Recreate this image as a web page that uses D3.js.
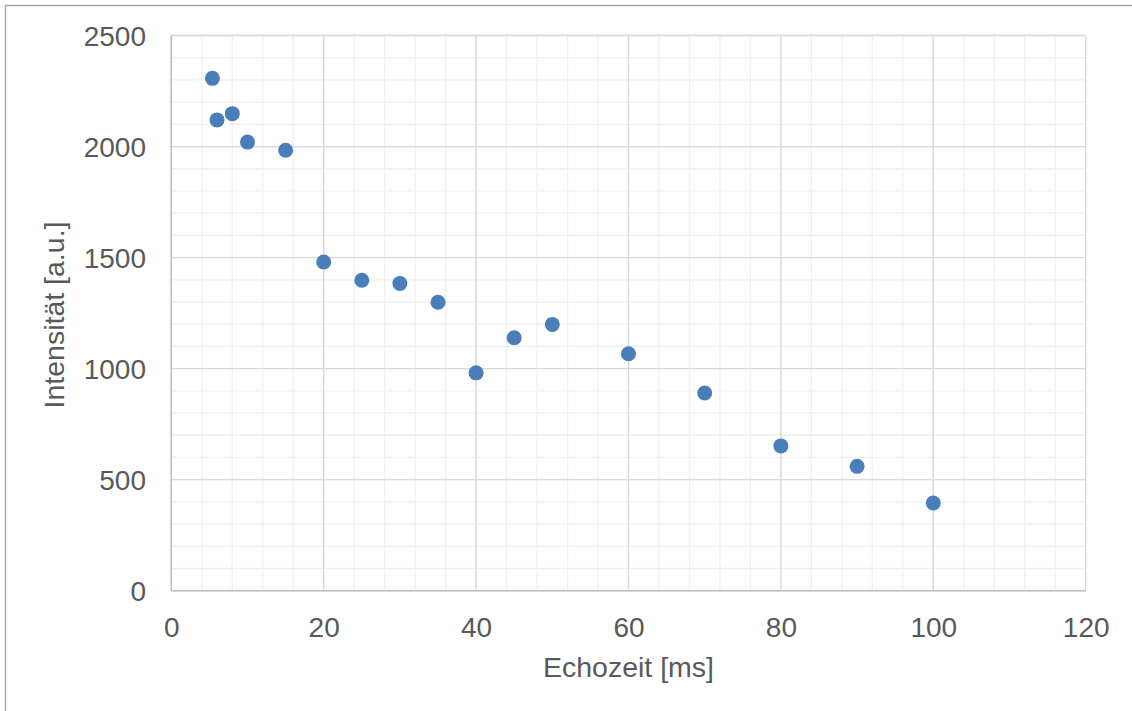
<!DOCTYPE html>
<html>
<head>
<meta charset="utf-8">
<script src="https://cdn.jsdelivr.net/npm/d3@7"></script>
<style>
  html, body { margin: 0; padding: 0; background: #fff; }
  svg { display: block; }
  text { font-family: "Liberation Sans", Arial, sans-serif; fill: #595959; }
</style>
</head>
<body>
<svg id="chart" width="1132" height="711"></svg>
<script>
// Echo time (ms) and measured signal intensity (a.u.)
const echoTime  = [5.4, 6, 8, 10, 15, 20, 25, 30, 35, 40, 45, 50, 60, 70, 80, 90, 100];
const intensity = [2307, 2120, 2148, 2020, 1983, 1480, 1398, 1383, 1299, 981, 1139, 1199, 1067, 890, 652, 560, 395];

const xTicks = [0, 20, 40, 60, 80, 100, 120];
const yTicks = [0, 500, 1000, 1500, 2000, 2500];
const xMinor = d3.range(0, 121, 4);
const yMinor = d3.range(0, 2501, 100);

const xLabel = "Echozeit [ms]";
const yLabel = "Intensität [a.u.]";

const svg = d3.select("#chart");
const W = 1132, H = 711;
const plot = { left: 171.3, right: 1085.7, top: 35.5, bottom: 590.7 };

const x = d3.scaleLinear().domain([0, 120]).range([plot.left, plot.right]);
const y = d3.scaleLinear().domain([0, 2500]).range([plot.bottom, plot.top]);

// outer chart frame
svg.append("rect")
  .attr("x", 5.5).attr("y", 5.5)
  .attr("width", W + 10).attr("height", H + 10)
  .attr("fill", "#fff").attr("stroke", "#a6a6a6").attr("stroke-width", 1.5);

// minor gridlines
const grid = svg.append("g");
grid.selectAll(".vminor").data(xMinor).join("line")
  .attr("x1", d => x(d)).attr("x2", d => x(d))
  .attr("y1", plot.top).attr("y2", plot.bottom)
  .attr("stroke", "#f0f0f0").attr("stroke-width", 1.3);
grid.selectAll(".hminor").data(yMinor).join("line")
  .attr("x1", plot.left).attr("x2", plot.right)
  .attr("y1", d => y(d)).attr("y2", d => y(d))
  .attr("stroke", "#f0f0f0").attr("stroke-width", 1.3);

// major gridlines
grid.selectAll(".vmajor").data(xTicks).join("line")
  .attr("x1", d => x(d)).attr("x2", d => x(d))
  .attr("y1", plot.top).attr("y2", plot.bottom)
  .attr("stroke", "#d9d9d9").attr("stroke-width", 1.3);
grid.selectAll(".hmajor").data(yTicks).join("line")
  .attr("x1", plot.left).attr("x2", plot.right)
  .attr("y1", d => y(d)).attr("y2", d => y(d))
  .attr("stroke", "#d9d9d9").attr("stroke-width", 1.3);

// axis lines
svg.append("line")
  .attr("x1", plot.left).attr("x2", plot.left)
  .attr("y1", plot.top).attr("y2", plot.bottom)
  .attr("stroke", "#bfbfbf").attr("stroke-width", 1.5);
svg.append("line")
  .attr("x1", plot.left).attr("x2", plot.right)
  .attr("y1", plot.bottom).attr("y2", plot.bottom)
  .attr("stroke", "#bfbfbf").attr("stroke-width", 1.5);

// axes (labels only)
const xAxis = d3.axisBottom(x).tickValues(xTicks).tickFormat(d3.format("d")).tickSize(0).tickPadding(0);
const gx = svg.append("g").attr("transform", `translate(0,${plot.bottom})`).call(xAxis);
gx.select(".domain").remove();
gx.selectAll("text")
  .attr("y", 46).attr("dy", null)
  .style("font-size", "28px").attr("fill", "#595959")
  .style("font-family", "'Liberation Sans', Arial, sans-serif");

const yAxis = d3.axisLeft(y).tickValues(yTicks).tickFormat(d3.format("d")).tickSize(0).tickPadding(0);
const gy = svg.append("g").call(yAxis);
gy.select(".domain").remove();
gy.selectAll("text")
  .attr("x", 146).attr("dy", "10px")
  .style("font-size", "28px").attr("fill", "#595959")
  .style("font-family", "'Liberation Sans', Arial, sans-serif");

// data points
svg.append("g").selectAll("circle")
  .data(echoTime.map((t, i) => ({ t, v: intensity[i] })))
  .join("circle")
  .attr("cx", d => x(d.t)).attr("cy", d => y(d.v))
  .attr("r", 7.5)
  .attr("fill", "#4a7ebb");

// axis titles
svg.append("text")
  .attr("x", 628.5).attr("y", 677)
  .attr("text-anchor", "middle")
  .style("font-size", "28.5px")
  .text(xLabel);

svg.append("text")
  .attr("transform", "translate(63.5,315) rotate(-90)")
  .attr("text-anchor", "middle")
  .style("font-size", "28.5px")
  .text(yLabel);
</script>
</body>
</html>
